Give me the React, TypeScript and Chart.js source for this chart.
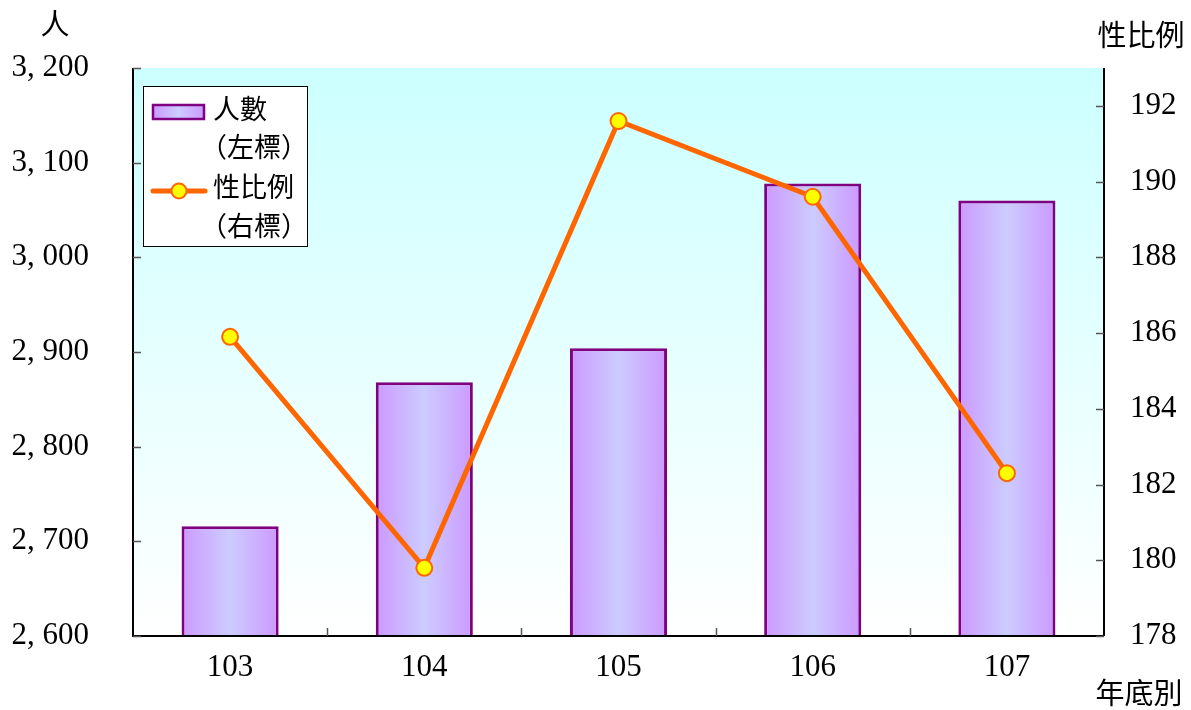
import React, { useEffect, useRef } from "react";
import { Chart, registerables } from "chart.js";

Chart.register(...registerables);

const categories = ["103", "104", "105", "106", "107"];
const populationValues = [2716, 2868, 2904, 3078, 3060];
const sexRatioValues = [185.9, 179.8, 191.6, 189.6, 182.3];
const leftTickRange = { min: 2600, max: 3200, step: 100 };
const rightTickRange = { min: 178, max: 193, step: 2 };
const legendLabels = [["人數", "（左標）"], ["性比例", "（右標）"]];
const leftTitle = "人";
const rightTitle = "性比例";
const xTitle = "年底別";

const BAR_PCT = 0.5;
const FONT = '"Liberation Serif", "Noto Sans CJK TC", serif';

function barGradient(c: CanvasRenderingContext2D, x0: number, x1: number) {
  const g = c.createLinearGradient(x0, 0, x1, 0);
  g.addColorStop(0, "#cc99ff");
  g.addColorStop(0.5, "#ccccff");
  g.addColorStop(1, "#cc99ff");
  return g;
}

const decorPlugin = {
  id: "decor",
  beforeDraw(chart: any) {
    const { ctx, chartArea: a } = chart;
    if (!a) return;
    const g = ctx.createLinearGradient(0, a.top, 0, a.bottom);
    g.addColorStop(0, "#ccffff");
    g.addColorStop(1, "#ffffff");
    ctx.save();
    ctx.fillStyle = g;
    ctx.fillRect(a.left, a.top, a.right - a.left, a.bottom - a.top);
    ctx.restore();
  },
  afterDraw(chart: any) {
    const { ctx, chartArea: a, scales } = chart;
    ctx.save();
    // axis lines
    ctx.strokeStyle = "#000";
    ctx.lineWidth = 2;
    ctx.beginPath();
    ctx.moveTo(a.left, a.top);
    ctx.lineTo(a.left, a.bottom);
    ctx.lineTo(a.right, a.bottom);
    ctx.moveTo(a.right, a.top);
    ctx.lineTo(a.right, a.bottom);
    ctx.stroke();
    // tick marks
    ctx.strokeStyle = "#555";
    ctx.lineWidth = 1.5;
    ctx.beginPath();
    scales.y.ticks.forEach((t: any) => {
      const y = Math.round(scales.y.getPixelForValue(t.value)) + 0.5;
      ctx.moveTo(a.left, y);
      ctx.lineTo(a.left + 8, y);
    });
    scales.y1.ticks.forEach((t: any) => {
      const y = Math.round(scales.y1.getPixelForValue(t.value)) + 0.5;
      ctx.moveTo(a.right, y);
      ctx.lineTo(a.right - 8, y);
    });
    const w = (a.right - a.left) / categories.length;
    for (let i = 1; i < categories.length; i++) {
      const x = Math.round(a.left + i * w) + 0.5;
      ctx.moveTo(x, a.bottom);
      ctx.lineTo(x, a.bottom - 8);
    }
    ctx.stroke();

    // axis titles
    ctx.fillStyle = "#000";
    ctx.font = `29px ${FONT}`;
    ctx.textAlign = "center";
    ctx.textBaseline = "middle";
    ctx.fillText(leftTitle, 55, 27);
    ctx.fillText(rightTitle, 1141, 38);
    ctx.fillText(xTitle, 1139, 696);

    // legend
    const lx = 143, ly = 86, lw = 164, lh = 160;
    ctx.fillStyle = "#fff";
    ctx.fillRect(lx, ly, lw, lh);
    ctx.strokeStyle = "#000";
    ctx.lineWidth = 1;
    ctx.strokeRect(lx + 0.5, ly + 0.5, lw, lh);
    // bar swatch
    ctx.fillStyle = barGradient(ctx, 153, 204);
    ctx.fillRect(153, 105, 51, 14);
    ctx.strokeStyle = "#800080";
    ctx.lineWidth = 2.5;
    ctx.strokeRect(153, 105, 51, 14);
    // line swatch
    ctx.strokeStyle = "#ff6600";
    ctx.lineWidth = 5;
    ctx.lineCap = "round";
    ctx.beginPath();
    ctx.moveTo(153, 191);
    ctx.lineTo(205, 191);
    ctx.stroke();
    ctx.beginPath();
    ctx.arc(179, 191, 7.5, 0, Math.PI * 2);
    ctx.fillStyle = "#ffff00";
    ctx.fill();
    ctx.lineWidth = 2;
    ctx.strokeStyle = "#ff6600";
    ctx.stroke();
    // legend text
    ctx.fillStyle = "#000";
    ctx.font = `27px ${FONT}`;
    ctx.textAlign = "left";
    ctx.textBaseline = "middle";
    ctx.fillText(legendLabels[0][0], 213, 112);
    ctx.fillText(legendLabels[0][1], 200, 150);
    ctx.fillText(legendLabels[1][0], 213, 190);
    ctx.fillText(legendLabels[1][1], 200, 229);
    ctx.restore();
  },
};

export default function App() {
  const ref = useRef<HTMLCanvasElement>(null);
  useEffect(() => {
    if (!ref.current) return;
    const chart = new Chart(ref.current, {
      type: "bar",
      data: {
        labels: categories,
        datasets: [
          {
            type: "line",
            label: "性比例",
            data: sexRatioValues,
            yAxisID: "y1",
            borderColor: "#ff6600",
            borderWidth: 5,
            pointRadius: 8,
            pointBorderWidth: 2,
            pointBackgroundColor: "#ffff00",
            pointBorderColor: "#ff6600",
            tension: 0,
            order: 0,
          } as any,
          {
            type: "bar",
            label: "人數",
            data: populationValues,
            yAxisID: "y",
            borderColor: "#800080",
            borderWidth: 3,
            borderSkipped: false,
            barPercentage: BAR_PCT,
            categoryPercentage: 1,
            backgroundColor: (c: any) => {
              const chart = c.chart;
              const a = chart.chartArea;
              if (!a || !chart.scales.x) return "#c9b3ff";
              const cx = chart.scales.x.getPixelForValue(c.dataIndex);
              const half = ((a.right - a.left) / categories.length) * BAR_PCT / 2;
              return barGradient(chart.ctx, cx - half, cx + half);
            },
            order: 1,
          } as any,
        ],
      },
      options: {
        responsive: false,
        animation: false,
        layout: { padding: { top: 68, left: 0, right: 0, bottom: 0 } },
        plugins: { legend: { display: false }, tooltip: { enabled: false } },
        scales: {
          x: {
            grid: { display: false, drawTicks: false },
            border: { display: false },
            ticks: { color: "#000", font: { family: FONT, size: 31 }, padding: 13 },
            afterFit: (s: any) => { s.height = 74; },
          },
          y: {
            position: "left",
            min: leftTickRange.min,
            max: leftTickRange.max,
            grid: { display: false, drawTicks: false },
            border: { display: false },
            ticks: {
              stepSize: leftTickRange.step,
              color: "#000",
              font: { family: FONT, size: 31 },
              padding: 44,
              callback: (v: any) => Number(v).toLocaleString("en-US").replace(",", ", "),
            },
            afterFit: (s: any) => { s.width = 133; },
          },
          y1: {
            position: "right",
            min: rightTickRange.min,
            max: rightTickRange.max,
            grid: { display: false, drawTicks: false },
            border: { display: false },
            ticks: {
              stepSize: rightTickRange.step,
              color: "#000",
              font: { family: FONT, size: 31 },
              padding: 26,
            },
            afterBuildTicks: (s: any) => {
              s.ticks = s.ticks.filter((t: any) => (t.value - rightTickRange.min) % rightTickRange.step === 0);
            },
            afterFit: (s: any) => { s.width = 87; },
          },
        },
      },
      plugins: [decorPlugin],
    });
    return () => chart.destroy();
  }, []);
  return (
    <div style={{ position: "fixed", left: 0, top: 0, width: 1191, height: 710, background: "#fff" }}>
      <canvas ref={ref} width={1191} height={710} />
    </div>
  );
}
